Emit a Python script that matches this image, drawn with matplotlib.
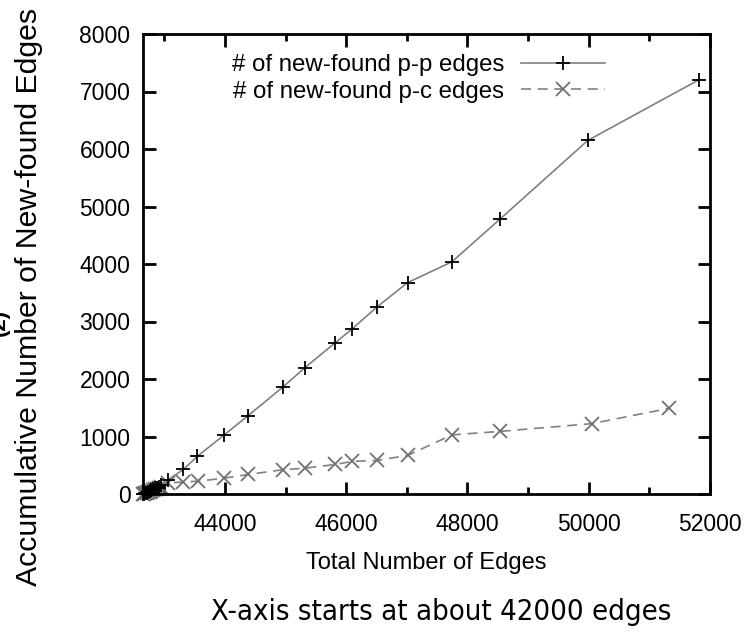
import matplotlib
matplotlib.use("Agg")
import matplotlib.pyplot as plt
from matplotlib.ticker import MultipleLocator

# Total number of edges at each sample
edges_pp = [42650, 42670, 42690, 42710, 42730, 42760, 42790, 42820, 42850, 42880,
            42910, 42950, 43066, 43316, 43546, 43985, 44382, 44958, 45314, 45824,
            46092, 46510, 47013, 47744, 48538, 49986, 51811]
# Accumulated number of newly found p-p edges
new_pp = [0, 5, 15, 25, 40, 50, 65, 80, 100, 110,
          130, 150, 250, 427, 655, 1024, 1362, 1861, 2192, 2634,
          2866, 3254, 3676, 4038, 4782, 6150, 7200]

edges_pc = [42650, 42670, 42690, 42710, 42730, 42760, 42790, 42820, 42850, 42880,
            42910, 42950, 43066, 43313, 43555, 43987, 44382, 44958, 45314, 45824,
            46092, 46510, 47013, 47744, 48538, 50046, 51329]
# Accumulated number of newly found p-c edges
new_pc = [0, 5, 10, 20, 30, 40, 55, 65, 80, 95,
          110, 130, 195, 206, 223, 275, 340, 422, 449, 514,
          566, 584, 671, 1028, 1089, 1223, 1490]

labels = ["# of new-found p-p edges", "# of new-found p-c edges"]
x_label = "Total Number of Edges"
y_label = "Accumulative Number of New-found Edges"
note = "X-axis starts at about 42000 edges"

plt.rcParams["font.family"] = ["Liberation Sans", "DejaVu Sans"]

W, H = 749, 638
fig = plt.figure(figsize=(W / 100, H / 100), dpi=100)
ax = fig.add_axes([143 / W, 1 - 494 / H, (710 - 143) / W, (494 - 34) / H])

ax.plot(edges_pp, new_pp, color="#808080", lw=1.2, marker="+", ms=10,
        mec="black", mew=1.3, label=labels[0], zorder=3, clip_on=False)
ax.plot(edges_pc, new_pc, color="#808080", lw=1.2, ls=(0, (6, 4)), marker="x",
        ms=10, mec="#707070", mew=1.3, label=labels[1], zorder=2, clip_on=False)

ax.set_xlim(42650, 52000)
ax.set_ylim(0, 8000)
ax.xaxis.set_major_locator(MultipleLocator(2000))
ax.xaxis.set_minor_locator(MultipleLocator(1000))
ax.yaxis.set_major_locator(MultipleLocator(1000))

for s in ax.spines.values():
    s.set_linewidth(2)
    s.set_zorder(4)
ax.tick_params(which="both", direction="in", top=True, right=True, width=2,
               labelsize=16.5)
ax.tick_params(axis="x", pad=14)
ax.tick_params(axis="y", pad=9)
ax.tick_params(which="major", length=9)
ax.tick_params(which="minor", length=5)

ax.set_xlabel(x_label, fontsize=17, labelpad=11)
ax.text(29 / W, 1 - 297 / H, y_label, transform=fig.transFigure, fontsize=21.8,
        rotation=90, ha="center", va="center")

leg = ax.legend(loc="upper right", bbox_to_anchor=(605 / W, 1 - 54 / H),
                bbox_transform=fig.transFigure, frameon=False, markerfirst=False,
                fontsize=17.3, handlelength=3.5, handletextpad=0.7,
                labelspacing=0.2, borderaxespad=0, borderpad=0)

fig.text(441 / W, 1 - 612 / H, note, fontsize=21, ha="center", va="center",
         family=["DejaVu Sans"], stretch="condensed")
fig.text(-1 / W, 1 - 322 / H, "(2)", rotation=90, fontsize=16, fontweight="bold",
         ha="center", va="center")

fig.savefig("out.png", dpi=100)
